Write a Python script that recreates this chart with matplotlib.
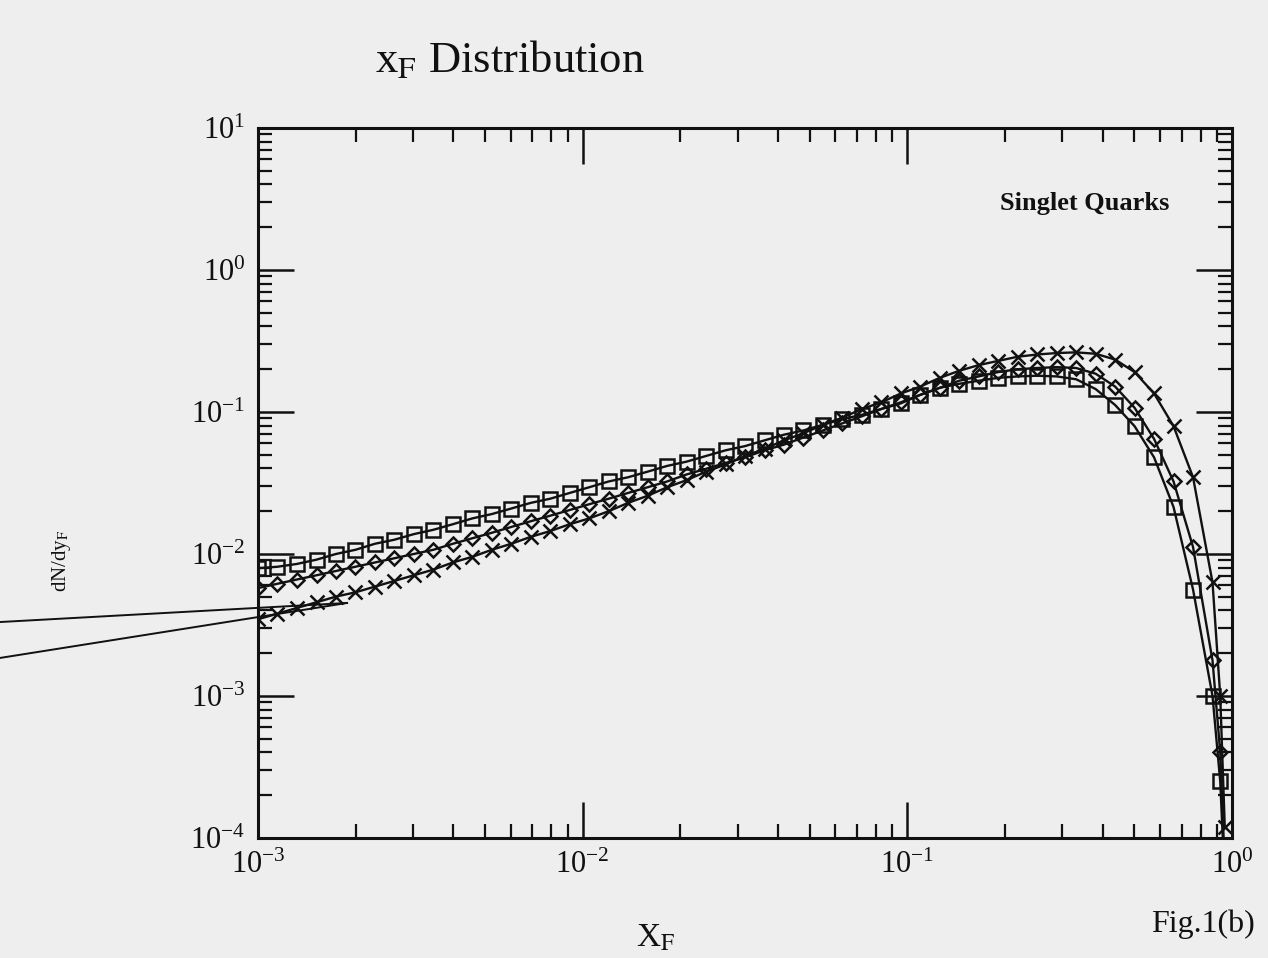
import matplotlib
matplotlib.use('Agg')
import matplotlib.pyplot as plt
from matplotlib.lines import Line2D

# x_F bin positions
xf = [0.001000, 0.001148, 0.001318, 0.001514, 0.001738, 0.001995, 0.002291, 0.002630, 0.003020, 0.003467,
      0.003981, 0.004571, 0.005248, 0.006026, 0.006918, 0.007943, 0.009120, 0.01047, 0.01202, 0.01380,
      0.01585, 0.01820, 0.02089, 0.02399, 0.02754, 0.03162, 0.03631, 0.04169, 0.04786, 0.05495,
      0.06310, 0.07244, 0.08318, 0.09550, 0.1096, 0.1259, 0.1445, 0.1660, 0.1905, 0.2188,
      0.2512, 0.2884, 0.3311, 0.3802, 0.4365, 0.5012, 0.5754, 0.6607, 0.7586, 0.8710, 0.92, 0.95]

# squares
dndy_sq = [0.00794, 0.00813, 0.00851, 0.00912, 0.0100, 0.0107, 0.0118, 0.0126, 0.0138, 0.0148,
           0.0162, 0.0178, 0.0191, 0.0209, 0.0229, 0.0245, 0.0269, 0.0295, 0.0324, 0.0347,
           0.0380, 0.0417, 0.0447, 0.0490, 0.0537, 0.0575, 0.0631, 0.0692, 0.0741, 0.0813,
           0.0891, 0.0955, 0.105, 0.115, 0.132, 0.148, 0.158, 0.166, 0.174, 0.178,
           0.180, 0.178, 0.170, 0.145, 0.112, 0.0794, 0.0479, 0.0214, 0.00562, 0.0010, 0.00025, 0.00005]

# diamonds
dndy_di = [0.00575, 0.00617, 0.00661, 0.00708, 0.00759, 0.00813, 0.00871, 0.00933, 0.0100, 0.0107,
           0.0118, 0.0129, 0.0141, 0.0155, 0.0170, 0.0186, 0.0204, 0.0224, 0.0245, 0.0269,
           0.0295, 0.0324, 0.0363, 0.0398, 0.0437, 0.0479, 0.0537, 0.0589, 0.0661, 0.0741,
           0.0832, 0.0933, 0.105, 0.117, 0.132, 0.148, 0.166, 0.178, 0.191, 0.200,
           0.204, 0.207, 0.204, 0.186, 0.151, 0.107, 0.0646, 0.0324, 0.0112, 0.00178, 0.0004, 0.000063]

# crosses
dndy_cr = [0.00347, 0.00380, 0.00417, 0.00457, 0.00501, 0.00537, 0.00589, 0.00646, 0.00708, 0.00776,
           0.00871, 0.00955, 0.0107, 0.0118, 0.0132, 0.0145, 0.0162, 0.0178, 0.0200, 0.0229,
           0.0257, 0.0295, 0.0331, 0.0380, 0.0427, 0.0490, 0.0550, 0.0631, 0.0708, 0.0813,
           0.0912, 0.105, 0.117, 0.135, 0.151, 0.174, 0.195, 0.214, 0.229, 0.245,
           0.254, 0.260, 0.263, 0.257, 0.234, 0.191, 0.135, 0.0794, 0.0347, 0.00631, 0.0010, 0.00012]

bg = '#eeeeee'
ink = '#111111'

plt.rcParams['font.family'] = ['Liberation Serif', 'DejaVu Serif']
plt.rcParams['mathtext.fontset'] = 'stix'
plt.rcParams['axes.unicode_minus'] = False

fig = plt.figure(figsize=(12.68, 9.58), dpi=100, facecolor=bg)
ax = fig.add_axes([0.2035, 0.1253, 0.7681, 0.7411], facecolor=bg)

series = [(dndy_sq, 's', 10.5, 'none'), (dndy_di, 'D', 7.5, 'none'), (dndy_cr, 'x', 10.5, ink)]
for vals, mk, ms, mfc in series:
    ax.plot(xf, vals, color=ink, lw=1.7, marker=mk, ms=ms, mfc=mfc, mec=ink, mew=1.8)

ax.set_xscale('log')
ax.set_yscale('log')
ax.set_xlim(1e-3, 1)
ax.set_ylim(1e-4, 10)

for s in ax.spines.values():
    s.set_linewidth(2.2)
    s.set_color(ink)
ax.tick_params(which='both', direction='in', top=True, right=True, color=ink, labelsize=22, labelcolor=ink)
ax.tick_params(which='major', length=26, width=1.8, pad=9)
ax.tick_params(which='minor', length=10, width=1.6)

ax.set_xlabel('X$_\\mathrm{F}$', fontsize=24, color=ink)
ax.xaxis.set_label_coords(0.408, -0.12)
ax.set_ylabel('dN/dy$_\\mathrm{F}$', fontsize=15, color=ink)
ax.yaxis.set_label_coords(-0.19, 0.39)

ax.text(0.936, 0.894, 'Singlet Quarks', transform=ax.transAxes, ha='right', va='center',
        fontsize=19, fontweight='bold', color=ink)

fig.text(0.402, 0.937, 'x$_\\mathrm{F}$ Distribution', ha='center', va='center', fontsize=32, color=ink)
fig.text(0.99, 0.035, 'Fig.1(b)', ha='right', va='center', fontsize=23, color=ink)

# stray pointer lines from the scan
fig.add_artist(Line2D([0.0, 0.2737], [0.3507, 0.3706], color=ink, lw=1.4, transform=fig.transFigure))
fig.add_artist(Line2D([0.0, 0.2737], [0.3132, 0.3706], color=ink, lw=1.4, transform=fig.transFigure))

fig.savefig('out.png', dpi=100, facecolor=bg)
